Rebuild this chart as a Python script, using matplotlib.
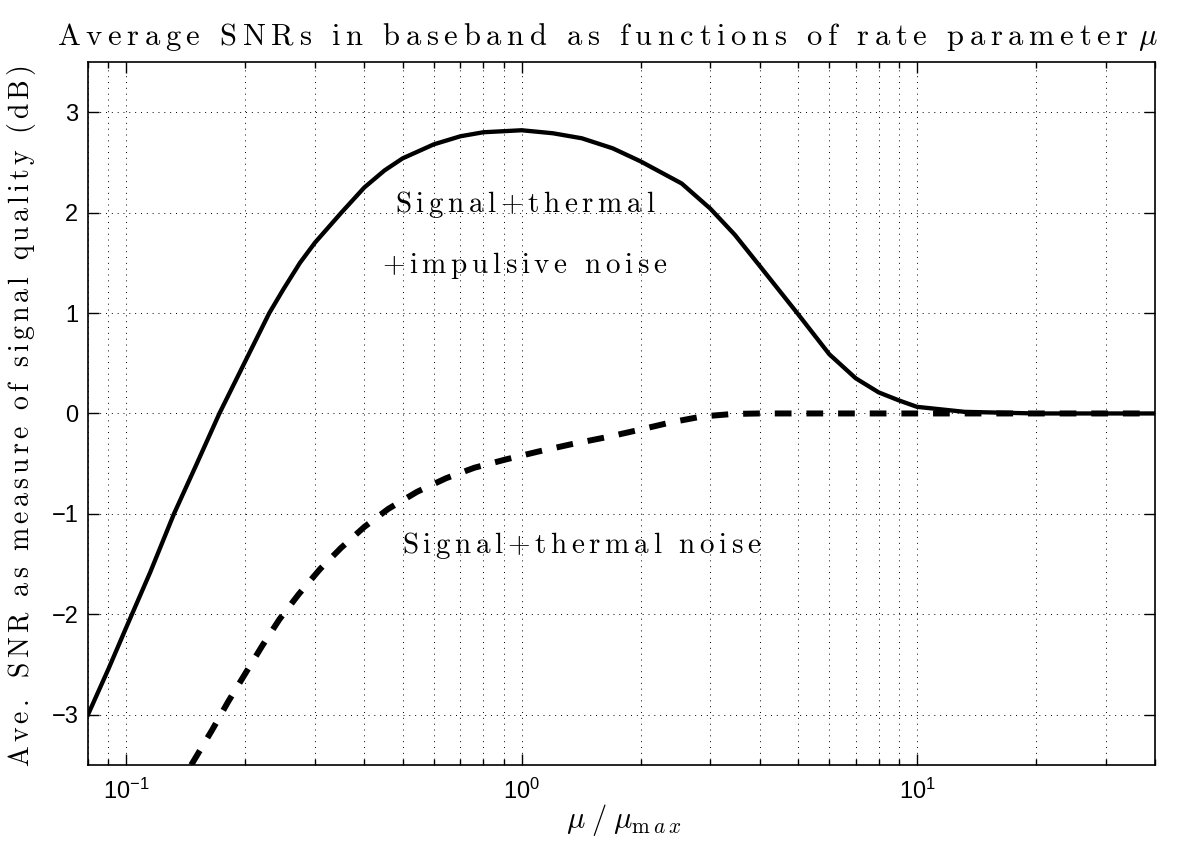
import numpy as np
import matplotlib
matplotlib.use('Agg')
import matplotlib.pyplot as plt
from matplotlib.ticker import LogLocator, NullFormatter, FixedLocator

plt.rcParams['font.family'] = ['Liberation Sans', 'DejaVu Sans']
plt.rcParams['mathtext.fontset'] = 'cm'

# solid curve: signal + thermal + impulsive noise
mu_imp = [0.08, 0.09, 0.1, 0.115, 0.132, 0.15, 0.172, 0.2, 0.23, 0.25, 0.275, 0.3,
          0.35, 0.4, 0.45, 0.5, 0.6, 0.7, 0.8, 1.0, 1.2, 1.42, 1.7, 2.0, 2.54,
          3.0, 3.46, 4.0, 5.0, 6.0, 7.0, 8.0, 9.0, 10.0, 13.2, 20.0, 40.0]
snr_imp = [-3.0, -2.55, -2.13, -1.58, -1.0, -0.52, 0.0, 0.52, 1.0, 1.24, 1.5, 1.70,
           2.0, 2.25, 2.42, 2.54, 2.68, 2.76, 2.80, 2.82, 2.79, 2.74, 2.64, 2.51, 2.29,
           2.04, 1.78, 1.47, 0.99, 0.59, 0.35, 0.21, 0.13, 0.066, 0.016, 0.0, 0.0]

# dashed curve: signal + thermal noise
mu_th = [0.146, 0.165, 0.181, 0.2, 0.221, 0.244, 0.273, 0.309, 0.349, 0.4, 0.46,
         0.544, 0.644, 0.76, 0.918, 1.1, 1.34, 1.66, 2.0, 2.39, 2.86, 3.42, 4.0, 40.0]
snr_th = [-3.5, -3.15, -2.87, -2.59, -2.31, -2.05, -1.80, -1.55, -1.34, -1.13, -0.95,
          -0.78, -0.645, -0.54, -0.455, -0.38, -0.305, -0.232, -0.16, -0.088, -0.03, -0.005, 0.0, 0.0]

yticks = [-3, -2, -1, 0, 1, 2, 3]

title = 'Average SNRs in baseband as functions of rate parameter'
ylabel = 'Ave. SNR as measure of signal quality (dB)'

W, H = 1200, 857


def spaced(s, gap=0.18):
    # letter-spaced roman text in mathtext
    parts = [r'\ ' if ch == ' ' else r'\mathrm{%s}' % ch for ch in s]
    return (r'\hspace{%.4f}' % gap).join(parts)


def fit_spaced(txt, s, span, vertical=False, tail=''):
    # pick the letter gap so the text covers span=(a, b) pixels from top/left
    r = fig.canvas.get_renderer()
    target = span[1] - span[0]
    lo, hi = 0.0, 1.0
    for _ in range(18):
        g = (lo + hi) / 2
        txt.set_text('$' + spaced(s, g) + tail + '$')
        bb = txt.get_window_extent(renderer=r)
        size = bb.height if vertical else bb.width
        if size > target:
            hi = g
        else:
            lo = g
    bb = txt.get_window_extent(renderer=r)
    x, y = txt.get_position()
    if vertical:
        want = H - (span[0] + span[1]) / 2
        y += (want - (bb.y0 + bb.y1) / 2) / H
    else:
        want = (span[0] + span[1]) / 2
        x += (want - (bb.x0 + bb.x1) / 2) / W
    txt.set_position((x, y))


fig = plt.figure(figsize=(12, 8.57), dpi=100)
ax = fig.add_axes([0.0733, 0.1074, 0.8892, 0.8203])

ax.plot(mu_imp, snr_imp, color='k', lw=3.1, solid_joinstyle='round')
ax.plot(mu_th, snr_th, color='k', lw=4.3, dashes=(2.8, 2.5), dash_capstyle='butt')

ax.set_xscale('log')
ax.set_xlim(0.08, 40)
ax.set_ylim(-3.5, 3.5)
ax.yaxis.set_major_locator(FixedLocator(yticks))
ax.xaxis.set_major_locator(LogLocator(base=10))
ax.xaxis.set_minor_locator(LogLocator(base=10, subs=np.arange(2, 10)))
ax.xaxis.set_minor_formatter(NullFormatter())

grid_style = dict(color='k', lw=0.7, linestyle=(0, (1, 5)))
ax.grid(True, which='major', axis='both', **grid_style)
ax.grid(True, which='minor', axis='x', **grid_style)

ax.tick_params(which='both', direction='in', top=True, right=True, width=1, labelsize=17)
ax.tick_params(which='major', length=8)
ax.tick_params(which='minor', length=4)
ax.tick_params(axis='y', pad=7)
ax.tick_params(axis='x', pad=10)
for sp in ax.spines.values():
    sp.set_linewidth(1.2)

ax.text(1.02, 2.01, '$' + spaced('Signal+thermal') + '$', fontsize=21, ha='center', va='baseline')
ax.text(1.02, 1.40, '$' + spaced('+impulsive noise') + '$', fontsize=21, ha='center', va='baseline')
ax.text(1.42, -1.385, '$' + spaced('Signal+thermal noise') + '$', fontsize=21, ha='center', va='baseline')

t_title = fig.text(0.5, 1 - 45 / H, '', fontsize=22, ha='center', va='baseline')
fit_spaced(t_title, title, (57, 1158), tail=r'\hspace{0.4}\mu')

fig.text(624 / W, 1 - 828 / H,
         r'$\mu\hspace{0.25}/\hspace{0.25}\mu_{\mathrm{m}\hspace{0.2}a\hspace{0.2}x}$',
         fontsize=22, ha='center', va='baseline')

t_ylab = fig.text(22 / W, 0.5, '', fontsize=20, rotation=90, ha='center', va='center')
fit_spaced(t_ylab, ylabel, (65, 767), vertical=True)

fig.savefig('out.png', dpi=100)
